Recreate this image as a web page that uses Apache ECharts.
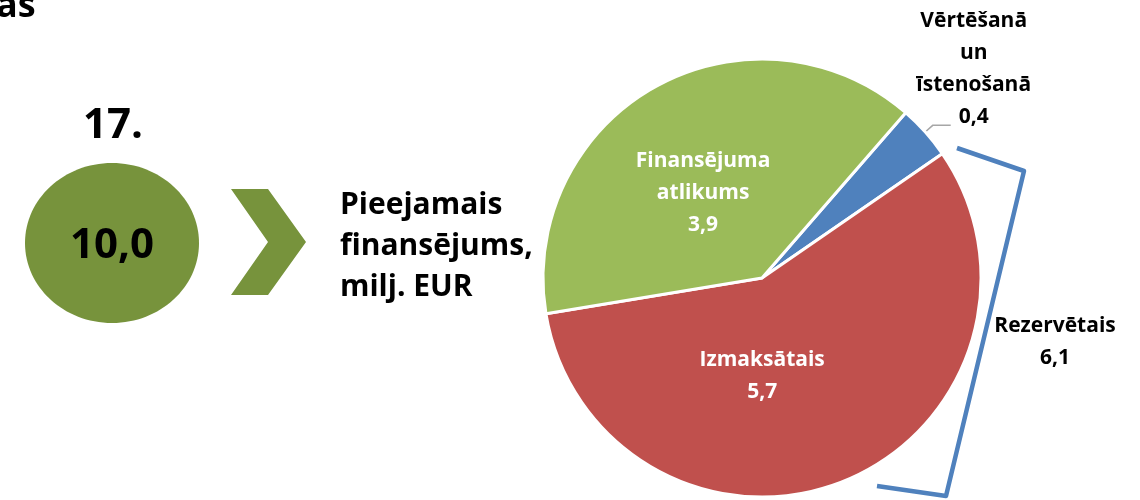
<!DOCTYPE html>
<html>
<head>
<meta charset="utf-8">
<script src="https://cdn.jsdelivr.net/npm/echarts@6/dist/echarts.min.js"></script>
<style>
  html, body { margin: 0; padding: 0; background: #fff; }
  #chart { width: 1140px; height: 500px; }
</style>
</head>
<body>
<div id="chart"></div>
<script>
// slices, clockwise from the blue one
const categories = ['Vērtēšanā\nun\nīstenošanā', 'Izmaksātais', 'Finansējuma\natlikums']
const values = [0.4, 5.7, 3.9]
const sliceColors = ['#4f81bd', '#c0504d', '#9bbb59']
const reservedIdx = [0, 1]  // bracket groups these two
const pageTitleTail = 'as'
const periodLabel = '17.'
const availableLabel = 'Pieejamais\nfinansējums,\nmilj. EUR'
const reservedLabel = 'Rezervētais'

const fmt = v => v.toFixed(1).replace('.', ',')
const total = values.reduce((a, b) => a + b, 0)
const reserved = reservedIdx.reduce((a, i) => a + values[i], 0)

const FONT = '"Open Sans", sans-serif'
const olive = '#77933c'
const blue = '#4f81bd'

const chart = echarts.init(document.getElementById('chart'))

// label nudges to sit where the original places them
const labelShift = [
  { align: 'center', dx: 18, dy: -56 },
  { dx: -42, dy: -6 },
  { dx: -4, dy: 13 },
]

chart.setOption({
  animation: false,
  graphic: [
    { type: 'text', x: -4, y: 25,
      style: { text: pageTitleTail, font: `bold 36px ${FONT}`, fill: '#000', textVerticalAlign: 'bottom' } },
    { type: 'text', x: 113, y: 147,
      style: { text: periodLabel, font: `bold 42px ${FONT}`, fill: '#000', textAlign: 'center', textVerticalAlign: 'bottom' } },
    { type: 'ellipse', shape: { cx: 112, cy: 243, rx: 87, ry: 80 }, style: { fill: olive } },
    { type: 'text', x: 112, y: 246,
      style: { text: fmt(total), font: `bold 42px ${FONT}`, fill: '#000', textAlign: 'center', textVerticalAlign: 'middle' } },
    { type: 'polygon',
      shape: { points: [[231, 189], [268, 189], [306, 242], [268, 295], [231, 295], [268, 242]] },
      style: { fill: olive } },
    { type: 'text', x: 340, y: 246,
      style: { text: availableLabel, font: `bold 30px ${FONT}`, lineHeight: 41, fill: '#000', textVerticalAlign: 'middle' } },
    { type: 'polyline',
      shape: { points: [[957, 148], [1024, 171], [946, 496], [877, 486]] },
      style: { stroke: blue, lineWidth: 4.5, fill: null, lineJoin: 'round' } },
    { type: 'text', x: 1055, y: 342,
      style: { text: reservedLabel + '\n' + fmt(reserved), font: `bold 21px ${FONT}`, lineHeight: 32, fill: '#000', textAlign: 'center', textVerticalAlign: 'middle' } },
  ],
  series: [{
    type: 'pie',
    center: [762, 278],
    radius: 219,
    startAngle: 49,
    clockwise: true,
    avoidLabelOverlap: false,
    silent: true,
    itemStyle: { borderColor: '#fff', borderWidth: 3 },
    label: {
      position: 'inside',
      color: '#fff',
      fontFamily: 'Open Sans',
      fontWeight: 'bold',
      fontSize: 21,
      lineHeight: 32,
      align: 'center',
      formatter: p => p.name + '\n' + fmt(p.value),
    },
    labelLayout: p => labelShift[p.dataIndex],
    data: categories.map((name, i) => {
      const d = { name, value: values[i], itemStyle: { color: sliceColors[i] } }
      if (i === 0) {
        d.label = { position: 'outside', color: '#000' }
        d.labelLine = { show: true, length: 10, length2: 18, lineStyle: { color: '#a6a6a6', width: 1.5 } }
      }
      return d
    }),
  }],
})
</script>
</body>
</html>
